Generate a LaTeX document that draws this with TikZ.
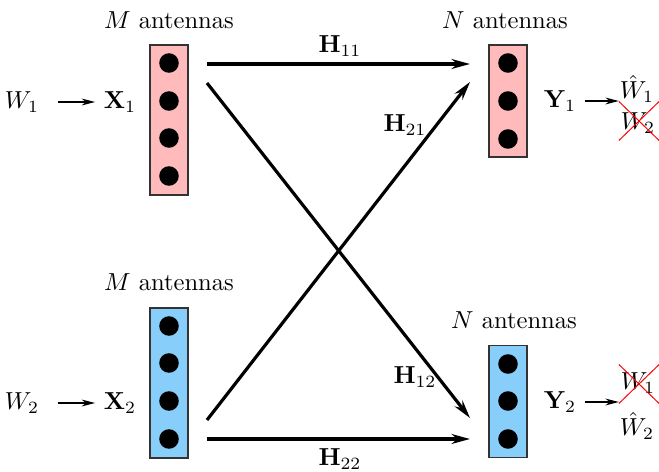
\documentclass[tikz,border=0pt]{standalone}
\usepackage{amsmath,amssymb}
\usetikzlibrary{arrows.meta,shapes.misc}
\definecolor{rxpink}{RGB}{255,187,187}
\definecolor{txblue}{RGB}{135,206,250}

\begin{document}
\begin{tikzpicture}[
    x=0.0143cm, y=-0.0143cm,
    >=Stealth,
    antbox/.style={rectangle, draw=black!80, fill=#1, minimum width=0.543cm, inner sep=0pt, line width=0.5pt},
    dot/.style={circle, fill=black, minimum size=0.28cm, inner sep=0pt},
    chan/.style={-{Stealth[length=7.5pt,width=4pt]}, line width=1.3pt},
    feed/.style={-{Stealth[length=5.5pt,width=2.8pt]}, line width=0.5pt},
    crossed/.style={cross out, draw=red, inner sep=1pt, minimum width=16pt, minimum height=15.5pt, line width=0.4pt}
]
\useasboundingbox (0,0) rectangle (659,472);

% Transmit antenna arrays
\node[antbox=rxpink, minimum height=2.145cm] (tx1) at (169,120) {};
\node[antbox=txblue, minimum height=2.145cm] (tx2) at (169,383) {};
\foreach \i/\yy in {1/63,2/101,3/138,4/176} {
  \node[dot] (t1d\i) at (169,\yy) {};
}
\foreach \i/\yy in {1/326,2/363,3/401,4/439} {
  \node[dot] (t2d\i) at (169,\yy) {};
}
\node (mlab1) at (169,20) {$M$ antennas};
\node (mlab2) at (169,282) {$M$ antennas};

% Receive antenna arrays
\node[antbox=rxpink, minimum height=1.6cm] (rx1) at (508,101) {};
\node[antbox=txblue, minimum height=1.6cm] (rx2) at (508,401.5) {};
\foreach \i/\yy in {1/63,2/101,3/139} {
  \node[dot] (r1d\i) at (508,\yy) {};
}
\foreach \i/\yy in {1/364,2/401,3/439} {
  \node[dot] (r2d\i) at (508,\yy) {};
}
\node (nlab1) at (505,20) {$N$ antennas};
\node (nlab2) at (514,320) {$N$ antennas};

% Messages and signals
\node (w1) at (22,102) {$W_1$};
\node (x1) at (120,102) {$\mathbf{X}_1$};
\node (w2) at (22,403) {$W_2$};
\node (x2) at (120,403) {$\mathbf{X}_2$};
\node (y1) at (560,101) {$\mathbf{Y}_1$};
\node (y2) at (560,402) {$\mathbf{Y}_2$};

% Decoded messages
\node[inner sep=0pt] (what1) at (637,89) {$\hat{W}_1$};
\node[inner sep=0pt] (w2n) at (638,123) {$W_2$};
\node[crossed] (w2x) at (639,121) {};
\node[inner sep=0pt] (w1n) at (638,383) {$W_1$};
\node[crossed] (w1x) at (639,384) {};
\node[inner sep=0pt] (what2) at (637,426) {$\hat{W}_2$};

% Channel end points
\coordinate (s11) at (207,64);
\coordinate (e11) at (470,64);
\coordinate (s12) at (207,83);
\coordinate (e12) at (470,418);
\coordinate (s21) at (207,420);
\coordinate (e21) at (470,82);
\coordinate (s22) at (207,439);
\coordinate (e22) at (470,439);

% Channels
\draw[chan] (s11) -- (e11);
\draw[chan] (s12) -- (e12);
\draw[chan] (s21) -- (e21);
\draw[chan] (s22) -- (e22);
\node (h11) at (340,46) {$\mathbf{H}_{11}$};
\node (h21) at (405,125) {$\mathbf{H}_{21}$};
\node (h12) at (415,377) {$\mathbf{H}_{12}$};
\node (h22) at (340,459) {$\mathbf{H}_{22}$};

% Small arrows
\draw[feed, shorten <=4pt] (w1) -- (x1);
\draw[feed, shorten <=4pt] (w2) -- (x2);
\draw[feed] (y1.east) -- (y1.east -| w2x.west);
\draw[feed] (y2.east) -- (y2.east -| w1x.west);

\end{tikzpicture}
\end{document}
